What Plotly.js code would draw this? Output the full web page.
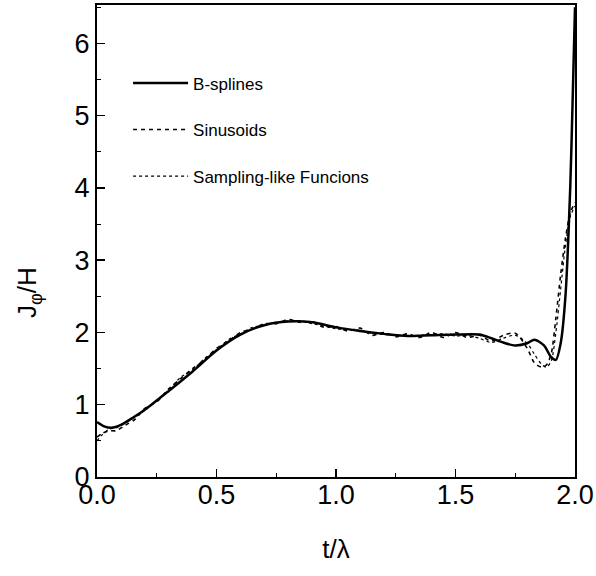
<!DOCTYPE html>
<html>
<head>
<meta charset="utf-8">
<script src="https://cdn.plot.ly/plotly-3.0.1.min.js"></script>
<style>html,body{margin:0;padding:0;background:#fff;}#chart{width:596px;height:576px;}</style>
</head>
<body>
<div id="chart"></div>
<script>
// Data
const seriesNames = ["B-splines", "Sinusoids", "Sampling-like Funcions"];

const xSpline = [0, 0.03, 0.06, 0.1, 0.15, 0.2, 0.3, 0.4, 0.5, 0.6, 0.7, 0.8, 0.9, 1.0, 1.1, 1.2, 1.3, 1.4, 1.5, 1.6, 1.65, 1.7, 1.75, 1.8, 1.83, 1.87, 1.9, 1.92, 1.94, 1.96, 1.98, 1.99, 2.0];
const ySpline = [0.76, 0.70, 0.68, 0.72, 0.82, 0.93, 1.19, 1.46, 1.75, 1.97, 2.10, 2.15, 2.14, 2.07, 2.02, 1.98, 1.95, 1.96, 1.97, 1.97, 1.92, 1.86, 1.82, 1.85, 1.90, 1.82, 1.66, 1.62, 1.85, 2.5, 4.0, 5.2, 6.5];

const xSin = [0, 0.02, 0.05, 0.08, 0.12, 0.16, 0.2, 0.25, 0.3, 0.35, 0.4, 0.45, 0.5, 0.55, 0.6, 0.65, 0.7, 0.75, 0.8, 0.85, 0.9, 0.95, 1.0, 1.05, 1.1, 1.15, 1.2, 1.25, 1.3, 1.35, 1.4, 1.45, 1.5, 1.55, 1.6, 1.65, 1.7, 1.75, 1.8, 1.83, 1.86, 1.88, 1.9, 1.92, 1.94, 1.96, 1.98, 2.0];
const ySin = [0.55, 0.6, 0.64, 0.64, 0.72, 0.80, 0.95, 1.04, 1.22, 1.36, 1.50, 1.62, 1.78, 1.88, 2.00, 2.05, 2.12, 2.12, 2.18, 2.14, 2.15, 2.07, 2.08, 2.02, 2.06, 1.96, 2.0, 1.94, 1.98, 1.93, 2.0, 1.93, 2.0, 1.93, 1.96, 1.88, 1.96, 1.99, 1.78, 1.58, 1.52, 1.55, 1.7, 2.2, 2.8, 3.3, 3.65, 3.8];

const xSamp = [0, 0.02, 0.05, 0.08, 0.12, 0.16, 0.2, 0.25, 0.3, 0.35, 0.4, 0.45, 0.5, 0.55, 0.6, 0.65, 0.7, 0.75, 0.8, 0.85, 0.9, 0.95, 1.0, 1.05, 1.1, 1.15, 1.2, 1.25, 1.3, 1.35, 1.4, 1.45, 1.5, 1.55, 1.6, 1.65, 1.7, 1.75, 1.8, 1.83, 1.86, 1.88, 1.9, 1.92, 1.94, 1.96, 1.98, 2.0];
const ySamp = [0.5, 0.58, 0.66, 0.68, 0.75, 0.83, 0.92, 1.06, 1.2, 1.38, 1.48, 1.64, 1.76, 1.9, 1.98, 2.07, 2.1, 2.14, 2.16, 2.16, 2.12, 2.09, 2.05, 2.04, 2.03, 1.99, 1.97, 1.96, 1.95, 1.96, 1.97, 1.98, 1.95, 1.96, 1.92, 1.86, 1.92, 1.96, 1.85, 1.7, 1.56, 1.52, 1.6, 2.0, 2.6, 3.2, 3.6, 3.75];

const xTickVals = [0, 0.5, 1.0, 1.5, 2.0];
const xTickText = ["0.0", "0.5", "1.0", "1.5", "2.0"];
const yTickVals = [0, 1, 2, 3, 4, 5, 6];
const yTickText = ["0", "1", "2", "3", "4", "5", "6"];
const xTitle = "t/λ";
const yTitle = "J<sub>φ</sub>/H";

const FONT = "Arial, 'Liberation Sans', sans-serif";

const traces = [
  {x: xSpline, y: ySpline, name: seriesNames[0], mode: "lines", legendgroup: "a",
   line: {color: "#000", width: 2.5, dash: "solid", shape: "spline", smoothing: 0.8}},
  {x: xSin, y: ySin, name: seriesNames[1], mode: "lines", legendgroup: "b",
   line: {color: "#000", width: 1.6, dash: "4px,4px", shape: "spline", smoothing: 0.8}},
  {x: xSamp, y: ySamp, name: seriesNames[2], mode: "lines", legendgroup: "c",
   line: {color: "#000", width: 1.2, dash: "dot", shape: "spline", smoothing: 0.8}}
];

const axisCommon = {
  showline: true, mirror: true, linecolor: "#000", linewidth: 2,
  ticks: "inside", ticklen: 8, tickwidth: 1.5, tickcolor: "#000",
  showgrid: false, zeroline: false,
  tickfont: {family: FONT, size: 27, color: "#000"}
};

const layout = {
  width: 596, height: 576,
  margin: {l: 97, r: 21, t: 5, b: 99},
  paper_bgcolor: "#fff", plot_bgcolor: "#fff",
  showlegend: true,
  legend: {x: 0.065, y: 0.872, xanchor: "left", yanchor: "top",
           font: {family: FONT, size: 17, color: "#000"},
           bgcolor: "rgba(0,0,0,0)", tracegroupgap: 21.5, itemwidth: 55},
  xaxis: Object.assign({}, axisCommon, {
    range: [0, 2.0], tickvals: xTickVals, ticktext: xTickText, ticklabelstandoff: -7,
    minor: {ticks: "inside", ticklen: 4, tickwidth: 1, tickcolor: "#000", dtick: 0.25},
    title: {text: xTitle, font: {family: FONT, size: 26, color: "#000"}, standoff: 30}
  }),
  yaxis: Object.assign({}, axisCommon, {
    range: [0, 6.53], tickvals: yTickVals, ticktext: yTickText,
    minor: {ticks: "inside", ticklen: 4, tickwidth: 1, tickcolor: "#000", dtick: 0.5}
  }),
  annotations: [
    {text: yTitle, xref: "paper", yref: "paper", x: -0.142, y: 0.39,
     xanchor: "center", yanchor: "middle", textangle: -90, showarrow: false,
     font: {family: FONT, size: 26, color: "#000"}}
  ]
};

Plotly.newPlot("chart", traces, layout, {displayModeBar: false, staticPlot: true});
</script>
</body>
</html>
